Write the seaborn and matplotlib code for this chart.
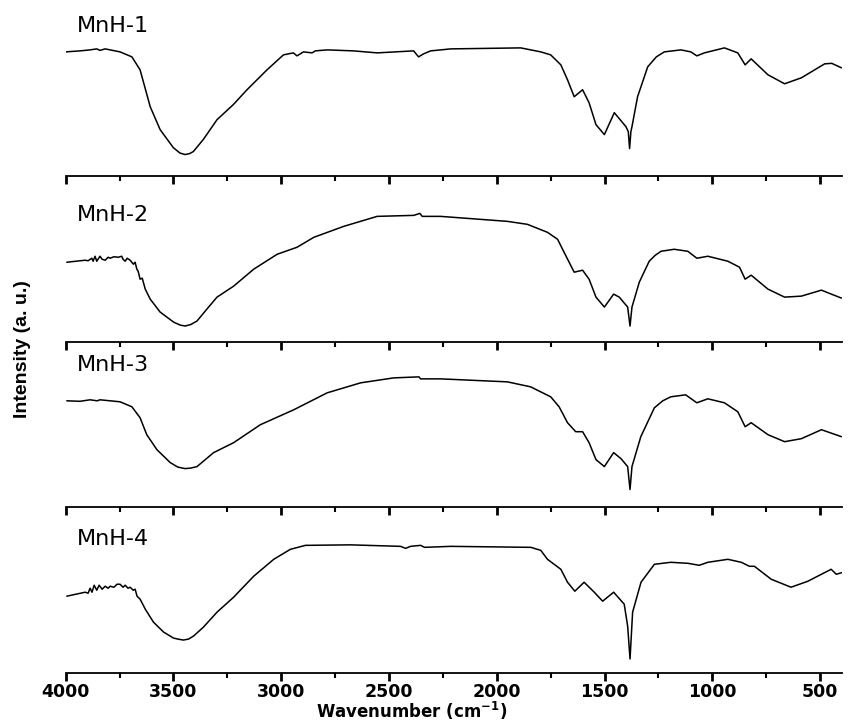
import pandas as pd
import matplotlib
matplotlib.use("Agg")
import matplotlib.pyplot as plt
from matplotlib import font_manager
from matplotlib.ticker import MultipleLocator
import seaborn as sns

# FTIR spectra (wavenumber in cm-1, intensity in a.u.)
wn_1 = [4000, 3934, 3887, 3856, 3841, 3817, 3794, 3748, 3693, 3655, 3608, 3562, 3501, 3470, 3446,
        3425, 3408, 3362, 3298, 3223, 3159, 3066, 2990, 2944, 2927, 2897, 2857, 2842, 2787, 2665,
        2555, 2386, 2363, 2340, 2307, 2214, 1889, 1796, 1750, 1703, 1672, 1641, 1602, 1572, 1540,
        1501, 1455, 1401, 1390, 1384, 1378, 1373, 1347, 1300, 1260, 1223, 1146, 1100, 1072, 1037,
        944, 882, 848, 820, 742, 665, 587, 479, 446, 401]
int_1 = [125, 126, 127, 128, 126.5, 128, 127, 125, 120, 107, 70, 47, 29, 23.5, 22,
         23, 25, 37, 57, 72, 87, 107, 122, 124, 121, 125, 124, 126, 127, 126,
         124, 126, 120, 123, 126, 128, 129, 125, 122, 112, 97, 80, 87, 74, 52,
         42, 64, 50, 45, 28, 45, 50, 80, 110, 120, 125, 127, 125, 121, 124,
         129, 124, 112, 118, 102, 93, 99, 113, 113.5, 109]

wn_2 = [3995, 3910, 3896, 3879, 3873, 3864, 3856, 3841, 3831, 3817, 3803, 3794, 3776, 3756, 3740,
        3734, 3724, 3715, 3701, 3686, 3678, 3670, 3664, 3655, 3645, 3631, 3608, 3562, 3500, 3470,
        3446, 3420, 3391, 3345, 3298, 3221, 3128, 3019, 2927, 2849, 2710, 2555, 2385, 2357, 2346,
        2261, 1951, 1858, 1765, 1718, 1688, 1641, 1602, 1572, 1540, 1501, 1458, 1432, 1393, 1382,
        1373, 1339, 1293, 1265, 1238, 1177, 1114, 1072, 1021, 928, 874, 848, 820, 742, 665,
        587, 494, 448, 401]
int_2 = [80, 82, 81.5, 84, 81, 86, 81, 86, 83, 82, 85, 84, 85.5, 85, 86,
         83, 81, 84, 82, 78, 80, 73, 71, 63, 64, 53, 43, 30, 20, 17,
         16, 17.5, 21, 33, 45, 56, 73, 88, 95, 105, 116, 126, 127, 129, 126,
         126, 121, 118, 110, 103, 90, 70, 72, 63, 45, 35, 48, 45, 35, 16,
         35, 60, 81, 87, 91, 93, 91, 84, 86, 81, 75, 63, 67, 53, 45,
         46, 52, 48, 44]

wn_3 = [3995, 3934, 3887, 3854, 3841, 3794, 3748, 3693, 3655, 3624, 3577, 3515, 3480, 3446, 3420,
        3391, 3314, 3221, 3097, 2942, 2787, 2632, 2478, 2361, 2354, 2261, 1951, 1843, 1750, 1711,
        1672, 1634, 1602, 1572, 1540, 1501, 1458, 1424, 1393, 1382, 1373, 1332, 1269, 1230, 1193,
        1124, 1072, 1021, 944, 882, 848, 820, 742, 665, 587, 494, 401]
int_3 = [107, 106.5, 108, 107, 108, 107, 106, 101, 90, 73, 58, 45, 40.5, 39, 39.5,
         41, 55, 65, 83, 98, 115, 125, 130, 131, 129, 129, 126, 121, 111, 101,
         85, 76, 76, 65, 48, 41, 55, 49, 41, 18, 41, 71, 100, 107, 111,
         113, 105, 109, 105, 96, 81, 85, 73, 66, 69, 78, 71]

wn_4 = [3995, 3910, 3896, 3887, 3878, 3868, 3856, 3845, 3831, 3817, 3803, 3794, 3776, 3762, 3748,
        3734, 3724, 3711, 3701, 3687, 3678, 3669, 3655, 3645, 3631, 3593, 3546, 3500, 3480, 3454,
        3430, 3407, 3361, 3298, 3221, 3128, 3035, 2958, 2888, 2679, 2447, 2423, 2400, 2354, 2335,
        2214, 1842, 1796, 1765, 1703, 1672, 1638, 1595, 1548, 1509, 1458, 1409, 1393, 1382, 1370,
        1331, 1269, 1193, 1114, 1061, 1021, 928, 866, 828, 805, 727, 635, 557, 449, 425, 394]
int_4 = [77, 81, 80, 85, 81, 88, 83, 88, 84, 87, 85, 87, 86, 89, 89,
         86, 88, 85, 86, 83, 84, 77, 74, 70, 64, 51, 41, 35, 34, 33,
         34, 37, 46, 61, 76, 97, 114, 124, 128, 128.5, 127, 125, 127, 128, 126,
         127, 126, 123, 114, 104, 91, 82, 91, 81, 72, 81, 69, 47, 14, 61,
         91, 109, 111, 110, 108, 111, 114, 111, 107, 107, 94, 86, 92, 104, 99, 101]

samples = ["MnH-1", "MnH-2", "MnH-3", "MnH-4"]
wavenumbers = [wn_1, wn_2, wn_3, wn_4]
intensities = [int_1, int_2, int_3, int_4]
label_y = [0.91, 0.765, 0.86, 0.81]

sns.set_style("ticks")
installed = {f.name for f in font_manager.fontManager.ttflist}
narrow = "Liberation Sans Narrow" if "Liberation Sans Narrow" in installed else "Liberation Sans"
plt.rcParams["font.family"] = ["DejaVu Sans"]
plt.rcParams["text.color"] = "black"
plt.rcParams["axes.edgecolor"] = "black"
plt.rcParams["xtick.color"] = "black"
plt.rcParams["xtick.labelcolor"] = "black"

fig, axes = plt.subplots(4, 1, figsize=(8.49, 7.24), dpi=100, sharex=True)
fig.subplots_adjust(left=0.0774, right=0.9914, bottom=0.0705, top=0.9848, hspace=0)

for ax, name, wn, inten, ly in zip(axes, samples, wavenumbers, intensities, label_y):
    df = pd.DataFrame({"wn": wn, "intensity": inten})
    sns.lineplot(data=df, x="wn", y="intensity", ax=ax, color="black",
                 linewidth=1.1, estimator=None)
    ax.set_xlim(4000, 400)
    ax.set_ylim(0, 166)
    ax.set_yticks([])
    ax.set_xlabel("")
    ax.set_ylabel("")
    sns.despine(ax=ax, left=True, top=True, right=True)
    ax.spines["bottom"].set_linewidth(1.3)
    ax.spines["bottom"].set_color("black")
    ax.xaxis.set_major_locator(MultipleLocator(500))
    ax.xaxis.set_minor_locator(MultipleLocator(250))
    ax.tick_params(axis="x", which="major", direction="out", length=6, width=2,
                   labelsize=12.5, pad=1.5, colors="black")
    ax.tick_params(axis="x", which="minor", direction="out", length=3.5, width=1.5,
                   colors="black")
    ax.text(0.0142, ly, name, transform=ax.transAxes, fontsize=16,
            ha="left", va="center", color="black")
    ax.patch.set_alpha(0)

for ax in axes[:-1]:
    ax.tick_params(axis="x", which="both", labelbottom=False)
for lab in axes[-1].get_xticklabels():
    lab.set_fontweight("bold")

fig.text(0.485, 0.003, r"Wavenumber (cm$^{\mathbf{-1}}$)", ha="center", va="bottom",
         fontsize=12, fontweight="bold", color="black")
fig.text(0.026, 0.518, "Intensity (a. u.)", rotation=90, ha="center", va="center",
         fontsize=14, fontweight="bold", color="black", family=[narrow, "DejaVu Sans"])

fig.savefig("out.png", dpi=100)
